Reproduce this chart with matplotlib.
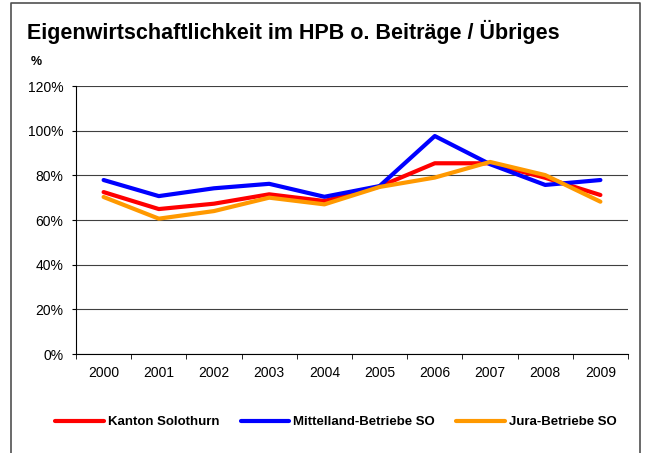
import numpy as np
import matplotlib.pyplot as plt
from matplotlib.lines import Line2D

plt.rcParams['font.family'] = ['Liberation Sans', 'DejaVu Sans']

jahre = ['2000', '2001', '2002', '2003', '2004', '2005', '2006', '2007', '2008', '2009']
kanton = [72.5, 64.9, 67.3, 71.5, 68.5, 75.0, 85.4, 85.4, 78.9, 71.2]
mittelland = [77.9, 70.7, 74.2, 76.2, 70.4, 75.2, 97.6, 85.0, 75.7, 77.9]
jura = [70.3, 60.6, 64.0, 70.0, 67.0, 74.8, 79.0, 86.0, 80.1, 68.2]

fig = plt.figure(figsize=(6.45, 4.53), dpi=100)
ax = fig.add_axes([76/645, 1-354/453, (628-76)/645, (354-86)/453])

x = np.arange(len(jahre))
ax.plot(x, kanton, color='#ff0000', lw=3, label='Kanton Solothurn', solid_capstyle='round')
ax.plot(x, mittelland, color='#0000ff', lw=3, label='Mittelland-Betriebe SO', solid_capstyle='round')
ax.plot(x, jura, color='#ff9900', lw=3, label='Jura-Betriebe SO', solid_capstyle='round')

ax.set_xlim(-0.5, len(jahre) - 0.5)
ax.set_ylim(0, 120)
ax.set_yticks(np.arange(0, 121, 20))
ax.set_yticklabels([f'{v}%' for v in range(0, 121, 20)], fontsize=10)
ax.set_xticks(x)
ax.set_xticklabels(jahre, fontsize=10)
ax.tick_params(axis='x', length=0, pad=8.5)
ax.set_xticks(np.arange(-0.5, len(jahre)), minor=True)
ax.tick_params(axis='x', which='minor', length=3.5, direction='out', color='black')
ax.tick_params(axis='y', length=3, pad=6, direction='out', color='black')
ax.yaxis.grid(True, color='#404040', lw=0.8)
ax.set_axisbelow(True)
for s in ['top', 'right']:
    ax.spines[s].set_visible(False)
ax.spines['left'].set_color('black')
ax.spines['bottom'].set_color('black')

fig.text(27/645, 1-39.5/453, 'Eigenwirtschaftlichkeit im HPB o. Beiträge / Übriges',
         fontsize=15.5, fontweight='bold', va='baseline', ha='left')
fig.text(31/645, 1-65/453, '%', fontsize=9, fontweight='bold', va='baseline', ha='left')

fig.legend(loc='center', bbox_to_anchor=(336/645, 1-422/453), ncol=3, frameon=False,
           prop={'weight': 'bold', 'size': 9.5}, handlelength=3.7, columnspacing=1.6,
           handletextpad=0.3)

# Rahmen
fig.add_artist(Line2D([11/645, 11/645, 640/645, 640/645], [0, 1-3/453, 1-3/453, 0],
                      transform=fig.transFigure, color='#505050', lw=1.2))

fig.savefig('out.png', dpi=100)
